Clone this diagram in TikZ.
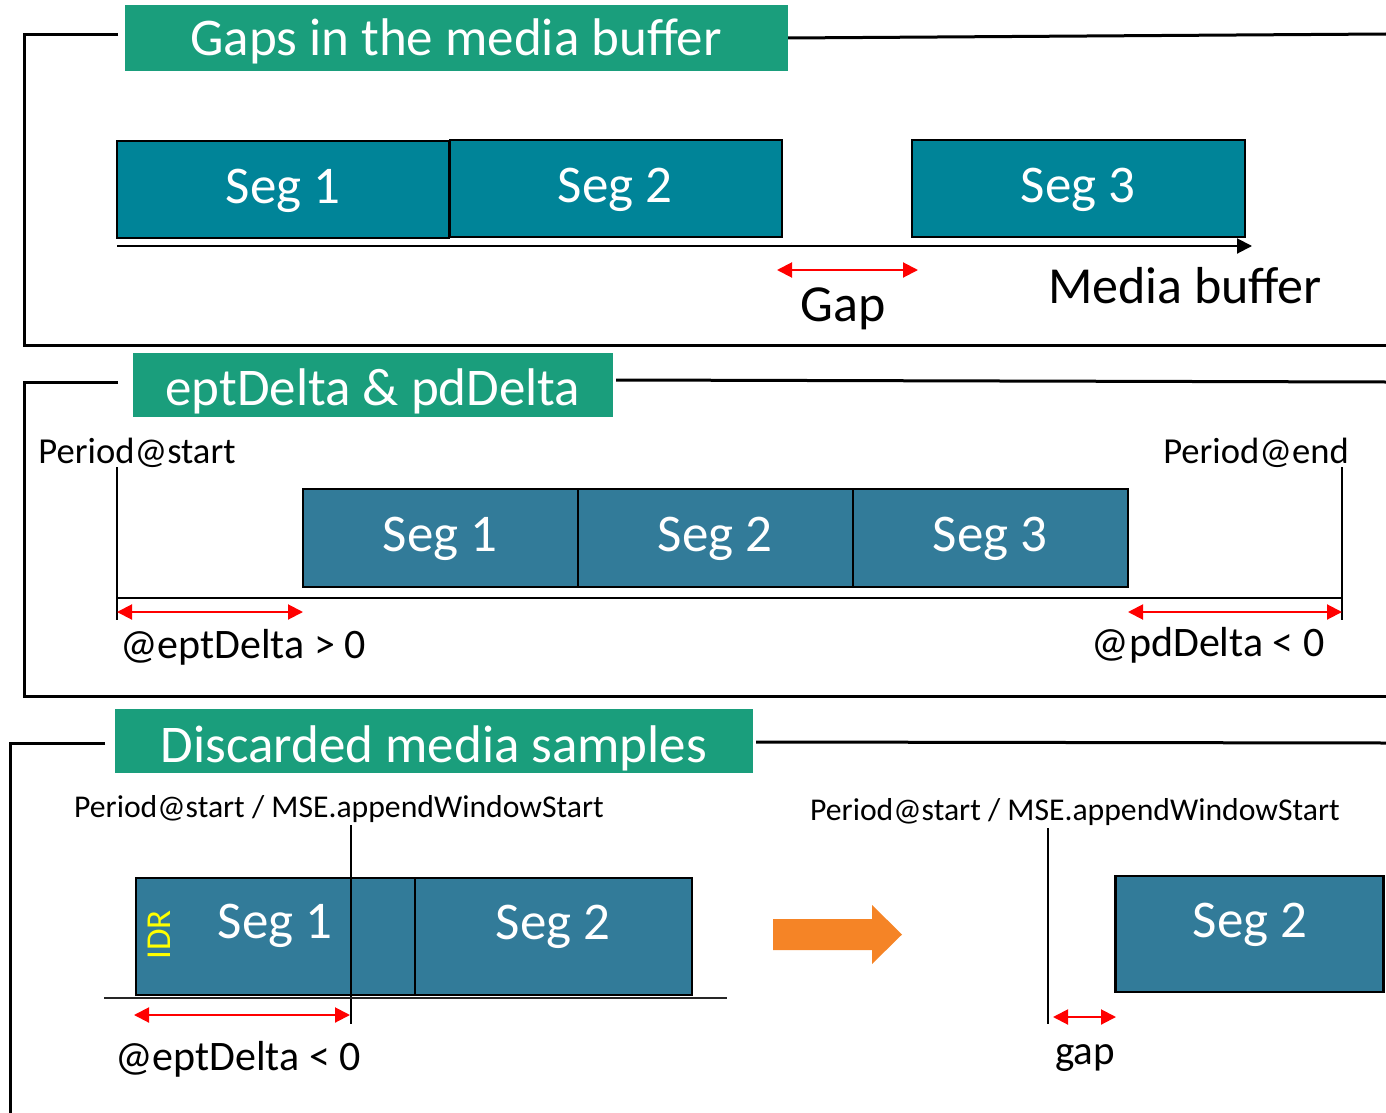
\documentclass[tikz,border=0pt]{standalone}
\usepackage{fontspec}
\setmainfont{Carlito}
\usetikzlibrary{arrows.meta}
\definecolor{titlegreen}{RGB}{26,158,124}
\definecolor{segteal}{RGB}{0,132,152}
\definecolor{segblue}{RGB}{50,123,153}
\definecolor{arrorange}{RGB}{245,132,38}
\definecolor{idryellow}{RGB}{255,255,0}
\begin{document}
\begin{tikzpicture}[x=1pt,y=-1pt,
  frame/.style={line width=3pt,black},
  titlebox/.style={fill=titlegreen,inner sep=0pt,minimum height=66pt},
  titletext/.style={text=white,anchor=base,inner sep=0pt,font=\fontsize{53}{60}\selectfont},
  segA/.style={draw=black,line width=2.2pt,fill=segteal,inner sep=0pt},
  segB/.style={draw=black,line width=2.2pt,fill=segblue,inner sep=0pt},
  seglabel/.style={text=white,anchor=base,inner sep=0pt,font=\fontsize{53}{60}\selectfont},
  bigtext/.style={anchor=base,inner sep=0pt,font=\fontsize{52}{60}\selectfont},
  midtext/.style={anchor=base,inner sep=0pt,font=\fontsize{42}{50}\selectfont},
  smalltext/.style={anchor=base,inner sep=0pt,font=\fontsize{36.6}{44}\selectfont},
  tinytext/.style={anchor=base,inner sep=0pt,font=\fontsize{31.7}{38}\selectfont},
  marker/.style={line width=2pt,black},
  axisline/.style={line width=2pt,black},
  redarrow/.style={line width=2pt,red,{Triangle[length=15pt,width=15pt]}-{Triangle[length=15pt,width=15pt]}}
]
\useasboundingbox (0,0) rectangle (1386,1113);

% ---------------- Panel 1 ----------------
\node[titlebox,minimum width=663pt] (t1) at (456.5,38.5) {};
\node[titletext] (t1txt) at (456,56) {Gaps in the media buffer};
\draw[frame] (118,35) -- (24,35) -- (24,345) -- (1386,345);
\draw[frame] (788,38) -- (1386,34);

\node[segA,minimum width=332pt,minimum height=97pt] (p1s1) at (283,189.5) {};
\node[segA,minimum width=332pt,minimum height=97pt] (p1s2) at (616,188.5) {};
\node[segA,minimum width=333pt,minimum height=97pt] (p1s3) at (1078.5,188.5) {};
\node[seglabel] (p1l1) at (283,203) {Seg 1};
\node[seglabel] (p1l2) at (615,202) {Seg 2};
\node[seglabel] (p1l3) at (1078,202) {Seg 3};

\coordinate (ax0) at (117,246);
\coordinate (ax1) at (1252,246);
\draw[axisline,-{Triangle[length=15pt,width=15pt]}] (ax0) -- (ax1);
\coordinate (g0) at (777,270);
\coordinate (g1) at (918,270);
\draw[redarrow] (g0) -- (g1);
\node[bigtext] (gaplbl) at (843,321) {Gap};
\node[bigtext] (mblbl) at (1185,303) {Media buffer};

% ---------------- Panel 2 ----------------
\node[titlebox,minimum width=480pt,minimum height=64pt] (t2) at (373,385) {};
\node[titletext] (t2txt) at (373,405) {eptDelta \& pdDelta};
\draw[frame] (118,382) -- (24,382) -- (24,696) -- (1386,696);
\draw[frame] (616,380) -- (1386,382);

\node[smalltext] (pstart) at (137,463) {Period@start};
\node[smalltext] (pend) at (1256,463) {Period@end};
\coordinate (vs0) at (117,467);
\coordinate (vs1) at (117,620);
\coordinate (ve0) at (1342,467);
\coordinate (ve1) at (1342,620);
\draw[marker] (vs0) -- (vs1);
\draw[marker] (ve0) -- (ve1);

\node[segB,minimum width=275pt,minimum height=98pt] (p2s1) at (440.5,538) {};
\node[segB,minimum width=275pt,minimum height=98pt] (p2s2) at (715.5,538) {};
\node[segB,minimum width=275pt,minimum height=98pt] (p2s3) at (990.5,538) {};
\node[seglabel] (p2l1) at (440,551) {Seg 1};
\node[seglabel] (p2l2) at (715,551) {Seg 2};
\node[seglabel] (p2l3) at (990,551) {Seg 3};

\coordinate (a20) at (117,598);
\coordinate (a21) at (1342,598);
\draw[axisline] (a20) -- (a21);
\coordinate (e0) at (117,612);
\coordinate (e1) at (303,612);
\draw[redarrow] (e0) -- (e1);
\coordinate (d0) at (1128,612);
\coordinate (d1) at (1342,612);
\draw[redarrow] (d0) -- (d1);
\node[midtext] (eptpos) at (243,658) {@eptDelta > 0};
\node[midtext] (pdneg) at (1208,656) {@pdDelta < 0};

% ---------------- Panel 3 ----------------
\node[titlebox,minimum width=638pt,minimum height=64pt] (t3) at (434,741) {};
\node[titletext] (t3txt) at (434,762) {Discarded media samples};
\draw[frame] (105,743) -- (10,743) -- (10,1113);
\draw[frame] (756,742) -- (1386,743);

\node[tinytext] (mse1) at (339,817) {Period@start / MSE.appendWindowStart};
\node[segB,minimum width=279pt,minimum height=117pt] (p3s1) at (275.5,936.5) {};
\node[segB,minimum width=277pt,minimum height=117pt] (p3s2) at (553.5,936.5) {};
\node[seglabel] (p3l1) at (275,938) {Seg 1};
\node[seglabel] (p3l2) at (553,939) {Seg 2};
\node[text=idryellow,inner sep=0pt,rotate=90,font=\fontsize{35}{40}\selectfont] (idr) at (159,935) {IDR};
\coordinate (m0) at (351,825);
\coordinate (m1) at (351,1024);
\draw[marker] (m0) -- (m1);
\coordinate (b0) at (104,998);
\coordinate (b1) at (727,998);
\draw[line width=1.8pt,black!85] (b0) -- (b1);
\coordinate (n0) at (134,1015);
\coordinate (n1) at (350,1015);
\draw[redarrow] (n0) -- (n1);
\node[midtext] (eptneg) at (238,1070) {@eptDelta < 0};

% orange arrow
\fill[arrorange] (773,919) -- (872,919) -- (872,905) -- (902,934.5) -- (872,964) -- (872,950) -- (773,950) -- cycle;

\node[tinytext] (mse2) at (1075,820) {Period@start / MSE.appendWindowStart};
\coordinate (r0) at (1048,828);
\coordinate (r1) at (1048,1024);
\draw[marker] (r0) -- (r1);
\node[segB,minimum width=268pt,minimum height=116pt] (p3r2) at (1249.5,934) {};
\node[seglabel] (p3rl2) at (1250,937) {Seg 2};
\coordinate (q0) at (1053,1017);
\coordinate (q1) at (1116,1017);
\draw[redarrow] (q0) -- (q1);
\node[midtext,font=\fontsize{41}{48}\selectfont] (gaplbl2) at (1085,1064) {gap};
\end{tikzpicture}
\end{document}
